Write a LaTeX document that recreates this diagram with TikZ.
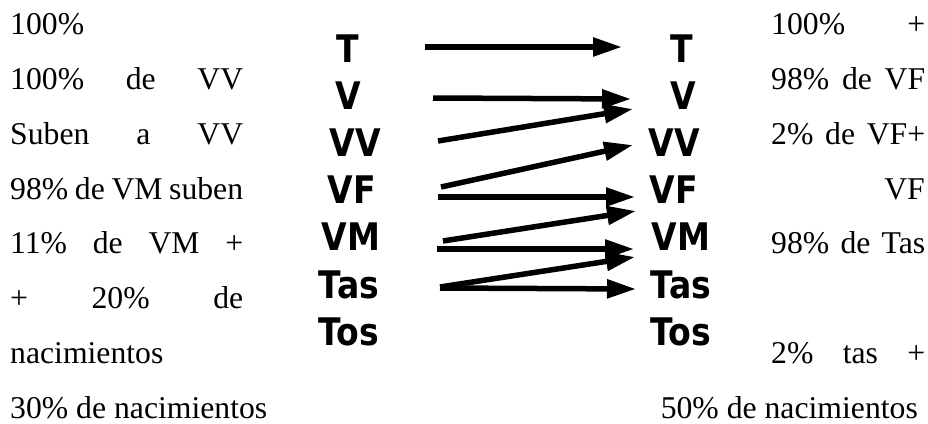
\documentclass[tikz,border=0pt]{standalone}
\usepackage{fontspec}
\usepackage{graphicx}
\setmainfont{Liberation Serif}
\newfontfamily\vfont{DejaVu Sans Bold}
\newcommand{\vl}[1]{\scalebox{0.87}[1]{\vfont\fontsize{38}{44}\selectfont #1}}
\usetikzlibrary{arrows.meta}
\begin{document}
\begin{tikzpicture}[x=1pt,y=-1pt,
  txt/.style={inner sep=0pt, anchor=base west, text depth=0pt, font=\fontsize{31.7}{38}\selectfont},
  let/.style={inner sep=0pt, anchor=base},
  arr/.style={line width=5.5pt, -{Triangle[length=29pt,width=18pt]}}]
\useasboundingbox (0,0) rectangle (928,423);
% left text column
\node[txt] (l1) at (10,34.3) {100\%};
\node[txt] (l2) at (10,89.2) {\makebox[233pt][s]{100\% de VV}};
\node[txt] (l3) at (10,144.1) {\makebox[233pt][s]{Suben a VV}};
\node[txt] (l4) at (10,199) {\makebox[233pt][s]{98\% de VM suben}};
\node[txt] (l5) at (10,253.9) {\makebox[233pt][s]{11\% de VM +}};
\node[txt] (l6) at (10,308.8) {\makebox[233pt][s]{+ 20\% de}};
\node[txt] (l7) at (10,363.7) {nacimientos};
\node[txt] (l8) at (10,418.6) {30\% de nacimientos};
% right text column
\node[txt] (r1) at (771,34.3) {\makebox[154pt][s]{100\% +}};
\node[txt] (r2) at (771,89.2) {\makebox[154pt][s]{98\% de VF}};
\node[txt] (r3) at (771,144.1) {\makebox[154pt][s]{2\% de VF+}};
\node[txt,anchor=base east] (r4) at (925,199) {VF};
\node[txt] (r5) at (771,253.9) {\makebox[154pt][s]{98\% de Tas}};
\node[txt] (r7) at (771,363.7) {\makebox[154pt][s]{2\% tas +}};
\node[txt,anchor=base east] (r8) at (918,418.6) {50\% de nacimientos};
% left letters
\node[let] (lT)   at (348,62)    {\vl{T}};
\node[let] (lV)   at (348,109.2) {\vl{V}};
\node[let] (lVV)  at (355,156.4) {\vl{VV}};
\node[let] (lVF)  at (352,203.6) {\vl{VF}};
\node[let] (lVM)  at (351,250.8) {\vl{VM}};
\node[let] (lTas) at (349,298)   {\vl{Tas}};
\node[let] (lTos) at (349,345.2) {\vl{Tos}};
% right letters
\node[let] (rT)   at (682,62)    {\vl{T}};
\node[let] (rV)   at (683,109.2) {\vl{V}};
\node[let] (rVV)  at (674,156.4) {\vl{VV}};
\node[let] (rVF)  at (674,203.6) {\vl{VF}};
\node[let] (rVM)  at (681,250.8) {\vl{VM}};
\node[let] (rTas) at (681,298)   {\vl{Tas}};
\node[let] (rTos) at (681,345.2) {\vl{Tos}};
% arrow ends
\coordinate (s1) at (425,47);  \coordinate (e1) at (622,47);
\coordinate (s2) at (433,98);  \coordinate (e2) at (631,99);
\coordinate (s3) at (438,141); \coordinate (e3) at (633,109);
\coordinate (s4) at (441,187); \coordinate (e4) at (633,145);
\coordinate (s5) at (438,197); \coordinate (e5) at (635,197);
\coordinate (s6) at (443,241); \coordinate (e6) at (636,211);
\coordinate (s7) at (437,249); \coordinate (e7) at (634,249);
\coordinate (s8) at (440,287); \coordinate (e8) at (635,257);
\coordinate (s9) at (440,288); \coordinate (e9) at (636,289);
\draw[arr] (s1) -- (e1);
\draw[arr] (s2) -- (e2);
\draw[arr] (s3) -- (e3);
\draw[arr] (s4) -- (e4);
\draw[arr] (s5) -- (e5);
\draw[arr] (s6) -- (e6);
\draw[arr] (s7) -- (e7);
\draw[arr] (s8) -- (e8);
\draw[arr] (s9) -- (e9);
\end{tikzpicture}
\end{document}
